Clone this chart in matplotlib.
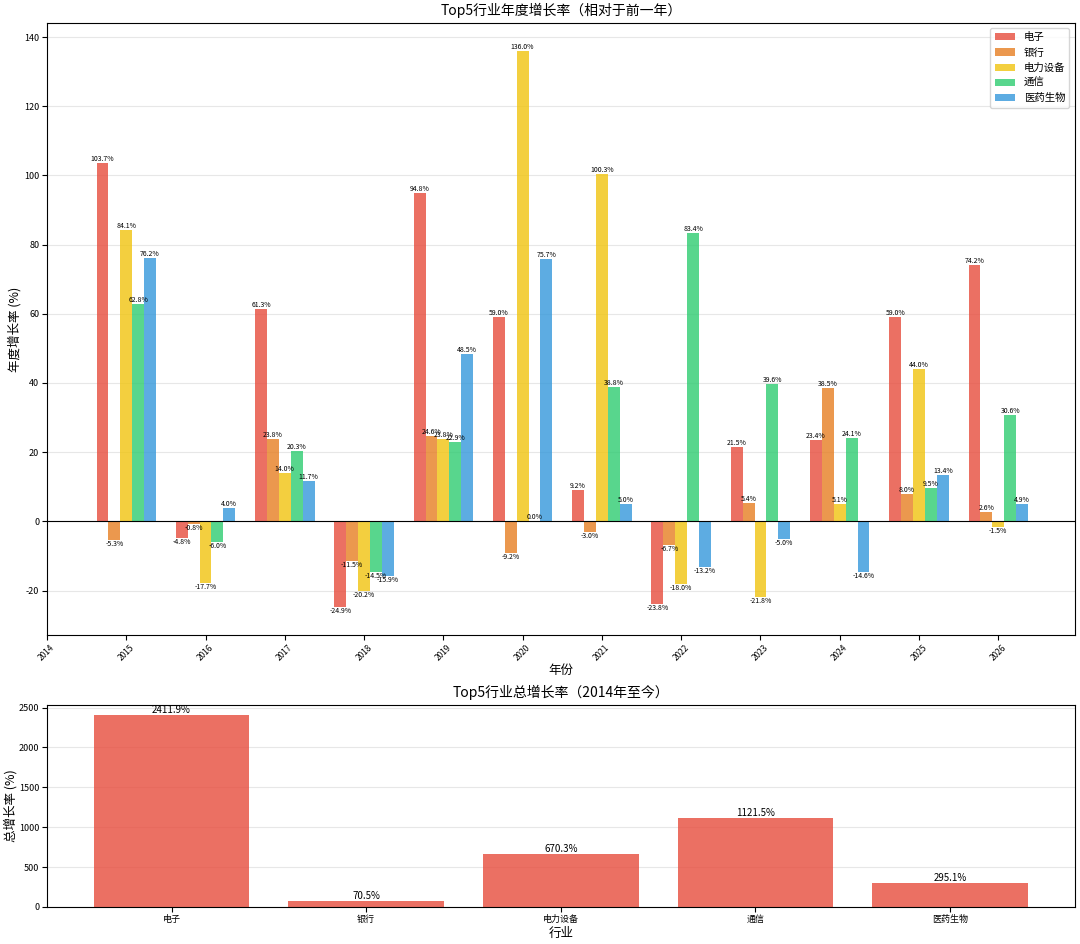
import numpy as np
import matplotlib
matplotlib.use("Agg")
import matplotlib.pyplot as plt

plt.rcParams['font.family'] = ['Noto Sans CJK SC', 'DejaVu Sans']
plt.rcParams['axes.unicode_minus'] = False

# data
years = [2015, 2016, 2017, 2018, 2019, 2020, 2021, 2022, 2023, 2024, 2025, 2026]
industries = ['电子', '银行', '电力设备', '通信', '医药生物']
growth_dianzi = [103.7, -4.8, 61.3, -24.9, 94.8, 59.0, 9.2, -23.8, 21.5, 23.4, 59.0, 74.2]
growth_yinhang = [-5.3, -0.8, 23.8, -11.5, 24.6, -9.2, -3.0, -6.7, 5.4, 38.5, 8.0, 2.6]
growth_dianli = [84.1, -17.7, 14.0, -20.2, 23.8, 136.0, 100.3, -18.0, -21.8, 5.1, 44.0, -1.5]
growth_tongxin = [62.8, -6.0, 20.3, -14.5, 22.9, 0.0, 38.8, 83.4, 39.6, 24.1, 9.5, 30.6]
growth_yiyao = [76.2, 4.0, 11.7, -15.9, 48.5, 75.7, 5.0, -13.2, -5.0, -14.6, 13.4, 4.9]
total_growth = [2411.9, 70.5, 670.3, 1121.5, 295.1]

series = [growth_dianzi, growth_yinhang, growth_dianli, growth_tongxin, growth_yiyao]
colors = ['#E74C3C', '#E67E22', '#F1C40F', '#2ECC71', '#3498DB']

fig = plt.figure(figsize=(10.8, 9.44), dpi=100)
ax1 = fig.add_axes([0.0435, 0.327, 0.9515, 0.6486])
ax2 = fig.add_axes([0.0435, 0.0392, 0.9515, 0.214])

# top chart: yearly growth
width = 0.15
x = np.array(years)
for i, (name, vals) in enumerate(zip(industries, series)):
    pos = x + (i - 2) * width
    bars = ax1.bar(pos, vals, width, label=name, color=colors[i], alpha=0.8)
    for b, v in zip(bars, vals):
        if v >= 0:
            ax1.text(b.get_x() + b.get_width() / 2, v, f'{v:.1f}%',
                     ha='center', va='bottom', fontsize=5)
        else:
            ax1.text(b.get_x() + b.get_width() / 2, v, f'{v:.1f}%',
                     ha='center', va='top', fontsize=5)

ax1.axhline(0, color='black', linewidth=0.8)
ax1.set_xticks(range(2014, 2027))
ax1.set_xticklabels([str(y) for y in range(2014, 2027)], rotation=45, fontsize=6)
ax1.tick_params(axis='y', labelsize=6.5, pad=2)
ax1.tick_params(axis='x', pad=2)
ax1.set_title('Top5行业年度增长率（相对于前一年）', fontsize=10)
ax1.set_xlabel('年份', fontsize=9, labelpad=1)
ax1.set_ylabel('年度增长率 (%)', fontsize=9, labelpad=2)
ax1.legend(loc='upper right', fontsize=7.5)
ax1.grid(axis='y', alpha=0.3)
ax1.set_axisbelow(True)

# bottom chart: total growth
bars2 = ax2.bar(industries, total_growth, color=colors[0], alpha=0.8)
for b, v in zip(bars2, total_growth):
    ax2.text(b.get_x() + b.get_width() / 2, v, f'{v:.1f}%',
             ha='center', va='bottom', fontsize=7)
ax2.set_title('Top5行业总增长率（2014年至今）', fontsize=10)
ax2.set_xlabel('行业', fontsize=9, labelpad=2)
ax2.set_ylabel('总增长率 (%)', fontsize=9, labelpad=1)
ax2.tick_params(labelsize=6.5, pad=2)
ax2.grid(axis='y', alpha=0.3)
ax2.set_axisbelow(True)

fig.savefig('out.png', dpi=100)
